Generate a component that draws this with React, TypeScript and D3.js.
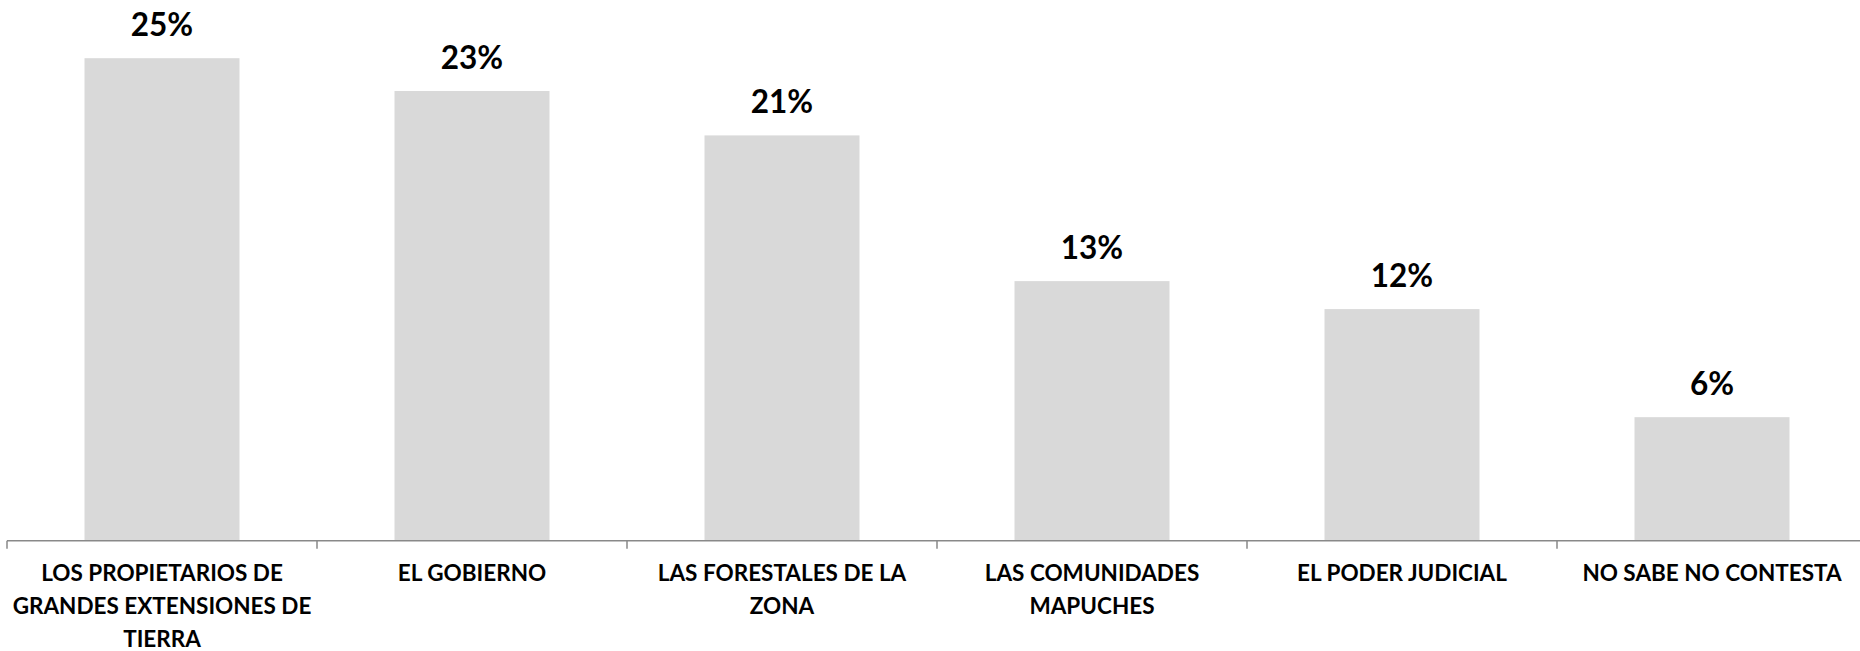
import { useRef, useEffect } from "react";
import * as d3 from "d3";

const categories = [
  "LOS PROPIETARIOS DE\nGRANDES EXTENSIONES DE\nTIERRA",
  "EL GOBIERNO",
  "LAS FORESTALES DE LA\nZONA",
  "LAS COMUNIDADES\nMAPUCHES",
  "EL PODER JUDICIAL",
  "NO SABE NO CONTESTA",
];
const values = [25.0, 23.3, 21.0, 13.45, 12.0, 6.4];

const WIDTH = 1860;
const HEIGHT = 651;
const FONT = "Lato, 'Open Sans', sans-serif";

export default function App() {
  const svgRef = useRef<SVGSVGElement>(null);

  useEffect(() => {
    drawChart();
  }, []);

  function drawChart() {
    if (!svgRef.current) return;
    const svg = d3.select(svgRef.current);
    svg.selectAll("*").remove();

    const baseline = 540.7;

    const x = d3
      .scaleBand<number>()
      .domain(d3.range(categories.length))
      .range([7, 7 + 310 * categories.length])
      .paddingInner(0.5)
      .paddingOuter(0.25);

    const y = d3.scaleLinear().domain([0, 28]).range([baseline, 0.3]);

    svg
      .append("g")
      .selectAll("rect")
      .data(values)
      .enter()
      .append("rect")
      .attr("x", (_, i) => x(i)!)
      .attr("y", (d) => y(d))
      .attr("width", x.bandwidth())
      .attr("height", (d) => baseline - y(d))
      .attr("fill", "#d9d9d9");

    svg
      .append("g")
      .selectAll("text")
      .data(values)
      .enter()
      .append("text")
      .attr("x", (_, i) => x(i)! + x.bandwidth() / 2)
      .attr("y", (d) => y(d) - 22)
      .attr("text-anchor", "middle")
      .attr("font-family", FONT)
      .attr("font-weight", "bold")
      .attr("font-size", 31.5)
      .attr("fill", "#000")
      .text((d) => `${Math.round(d)}%`);

    // axis line and ticks at band boundaries
    const step = x.step();
    const start = x.range()[0];
    const axis = svg.append("g").attr("stroke", "#898989").attr("stroke-width", 1.5);
    axis
      .append("line")
      .attr("x1", start)
      .attr("x2", WIDTH)
      .attr("y1", baseline)
      .attr("y2", baseline);
    axis
      .selectAll("line.tick")
      .data(d3.range(categories.length + 1))
      .enter()
      .append("line")
      .attr("class", "tick")
      .attr("x1", (i) => start + i * step)
      .attr("x2", (i) => start + i * step)
      .attr("y1", baseline)
      .attr("y2", baseline + 8);

    const labels = svg
      .append("g")
      .selectAll("text")
      .data(categories)
      .enter()
      .append("text")
      .attr("text-anchor", "middle")
      .attr("font-family", FONT)
      .attr("font-weight", "bold")
      .attr("font-size", 22.5)
      .attr("fill", "#000");

    labels
      .selectAll("tspan")
      .data((d, i) => d.split("\n").map((line) => ({ line, i })))
      .enter()
      .append("tspan")
      .attr("x", (d) => x(d.i)! + x.bandwidth() / 2)
      .attr("y", (_, j) => 581 + j * 33)
      .text((d) => d.line);
  }

  return (
    <svg
      ref={svgRef}
      width={WIDTH}
      height={HEIGHT}
      style={{ position: "absolute", left: 0, top: 0, background: "#fff" }}
    />
  );
}
